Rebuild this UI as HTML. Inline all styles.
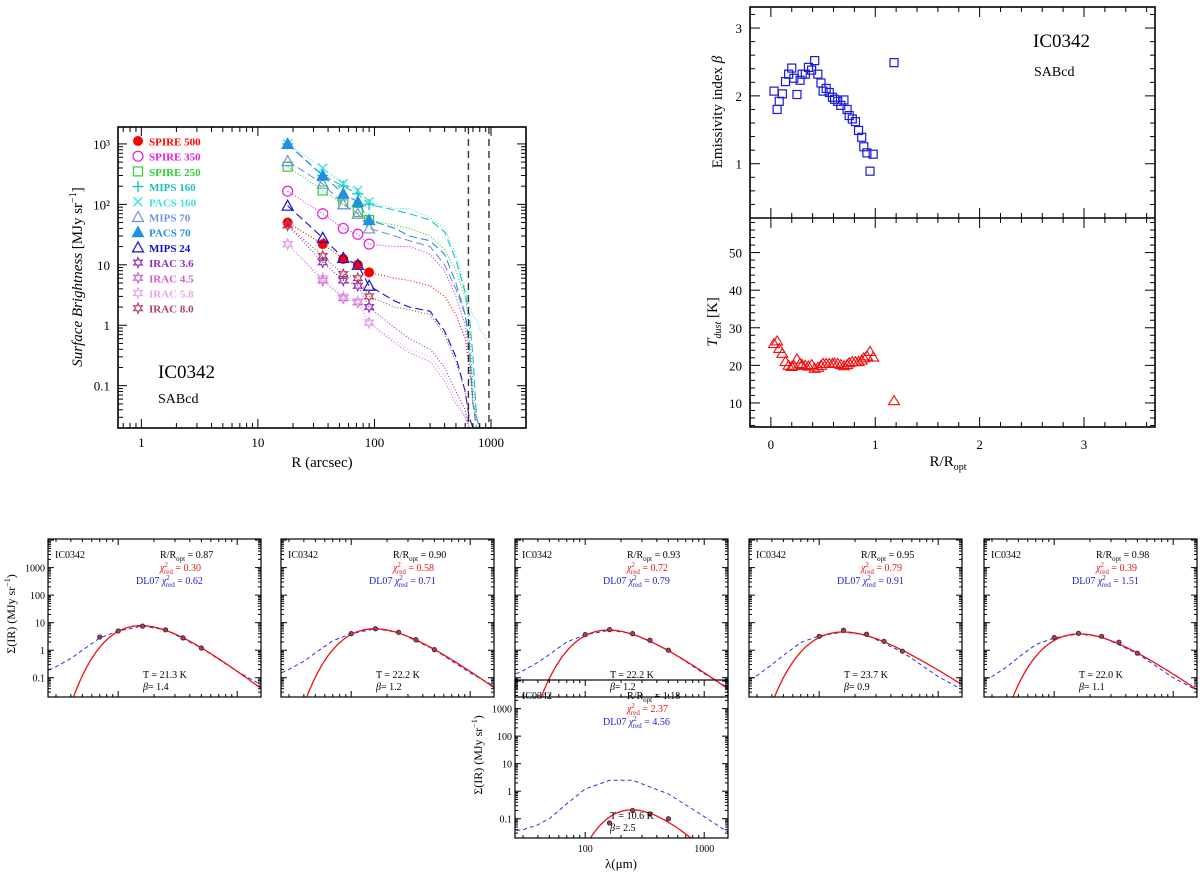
<!DOCTYPE html>
<html><head><meta charset="utf-8"><style>
body{margin:0;background:#fff;}
svg{display:block;}
text{font-family:"Liberation Serif","DejaVu Serif",serif;}
</style></head><body>
<svg id="fig" width="1200" height="874" viewBox="0 0 1200 874" xmlns="http://www.w3.org/2000/svg"></svg>
<script>
// ===== Main surface brightness profile data =====
const sbSeriesNames = ["SPIRE 500","SPIRE 350","SPIRE 250","MIPS 160","PACS 160","MIPS 70","PACS 70","MIPS 24","IRAC 3.6","IRAC 4.5","IRAC 5.8","IRAC 8.0"];
const sbColors = ["#ff0000","#e020e0","#30d030","#20c0c0","#40e0e0","#7090e0","#2090e0","#1010d0","#9030c0","#d060d0","#e8a8e8","#b04060"];
const sbMarkerR = [18,36,54,72,90];
const sbMarkerVals = [
 [50,22,12.5,10,7.5],
 [165,70,40,32,22],
 [420,170,100,75,55],
 [1000,300,200,150,100],
 [1000,400,220,170,110],
 [520,220,100,70,40],
 [1000,300,150,110,55],
 [95,28,13,10,4.5],
 [45,11,5.5,4.5,2],
 [22,5.5,2.8,2.4,1.1],
 [22,6,3,2.5,1.1],
 [45,14,7,6,3]
];
const sbProfileR = [18,36,54,72,90,150,200,300,400,500,600,650,700,750,800,950];
const sbProfileVals = [
 [50,22,12.5,10,7.5,6,5.5,4.5,3,1.5,0.6,0.2,0.05,0.03,0.02,0.01],
 [165,70,40,32,22,20,20,15,8,3,1,0.3,0.05,0.03,0.02,0.01],
 [420,170,100,75,55,45,40,30,18,8,3,1,0.1,0.03,0.02,0.01],
 [1000,300,200,150,100,80,70,55,35,12,3.5,1.5,0.3,0.03,0.02,0.01],
 [1000,400,220,170,110,85,85,60,40,15,4,2.2,1.5,1.2,0.9,0.5],
 [520,220,100,70,40,30,25,20,10,4,1.5,0.5,0.05,0.03,0.02,0.01],
 [1000,300,150,110,55,40,30,25,15,5,1.5,0.5,0.05,0.02,0.015,0.01],
 [95,28,13,10,4.5,2.5,2,1.7,0.8,0.3,0.08,0.03,0.02,0.015,0.01,0.01],
 [45,11,5.5,4.5,2,0.9,0.6,0.4,0.2,0.08,0.04,0.02,0.015,0.01,0.01,0.01],
 [22,5.5,2.8,2.4,1.1,0.5,0.35,0.25,0.12,0.05,0.03,0.02,0.015,0.01,0.01,0.01],
 [22,6,3,2.5,1.1,0.55,0.4,0.3,0.15,0.06,0.03,0.02,0.015,0.01,0.01,0.01],
 [45,14,7,6,3,2,1.8,1.5,0.7,0.25,0.08,0.03,0.02,0.015,0.01,0.01]
];
const sbDash = ["1,2","1,2","1,2","8,4","1,2","8,4","8,4","8,4","1,2","1,2","1,2","1,2"];
const sbMarkers = ["fcircle","ocircle","osquare","plus","cross","otri","ftri","otri","star","star","star","star"];
const sbXTicks = [1,10,100,1000];
const sbYTicks = [0.1,1,10,100,1000];
const sbYTickLabels = ["0.1","1","10","10²","10³"];
const vLines = [640,960];

// ===== Radial beta / T data =====
const radR = [0.03,0.06,0.08,0.11,0.14,0.17,0.20,0.22,0.25,0.28,0.30,0.33,0.36,0.39,0.42,0.45,0.48,0.50,0.53,0.56,0.59,0.61,0.64,0.67,0.70,0.73,0.75,0.78,0.81,0.84,0.87,0.89,0.92,0.95,0.98,1.18];
const betaVals = [2.07,1.80,1.92,2.03,2.21,2.32,2.41,2.26,2.02,2.23,2.32,2.32,2.42,2.38,2.52,2.32,2.19,2.07,2.11,2.05,1.98,1.95,1.92,1.86,1.94,1.80,1.71,1.66,1.62,1.49,1.39,1.25,1.16,0.89,1.14,2.49];
const tdustVals = [25.8,26.5,24.5,23.2,21,20,19.7,20,21.7,20.5,20.2,20,19.8,20.2,19.2,19.5,20,20.5,20.5,20.5,20.5,20.6,20.5,20.2,19.9,20.2,20.7,21,21,21,21.4,22,22.5,23.7,22.2,10.6];

// ===== SED panels =====
const sedRopt = ["0.87","0.90","0.93","0.95","0.98","1.18"];
const sedChi = ["0.30","0.58","0.72","0.79","0.39","2.37"];
const sedChiDL = ["0.62","0.71","0.79","0.91","1.51","4.56"];
const sedT = [21.3,22.2,22.2,23.7,22.0,10.6];
const sedBeta = [1.4,1.2,1.2,0.9,1.1,2.5];
const sedPeak = [7.8,6.0,5.4,4.6,3.9,0.21];
const sedPtsLam = [[70,100,160,250,350,500],[100,160,250,350,500],[100,160,250,350,500],[100,160,250,350,500],[100,160,250,350,500],[160,250,350,500]];
const sedPtsVal = [[3,5,7.5,5.5,2.8,1.2],[4,6,4.5,2.4,1.05],[3.7,5.6,4,2.3,1.0],[3.2,5.3,3.8,2.1,0.92],[2.9,4.1,3.2,1.95,0.78],[0.07,0.2,0.15,0.1]];
const dlLam = [23,30,40,50,70,100,160,250,500,1000,1740];
const dlVals = [
 [0.15,0.25,0.5,1,2.8,5,7.5,5.5,1.2,0.17,0.045],
 [0.12,0.2,0.4,0.8,2.2,4,6,4.4,1.05,0.15,0.04],
 [0.11,0.18,0.36,0.7,2,3.6,5.3,4,1.0,0.14,0.035],
 [0.07,0.12,0.3,0.65,1.9,3.3,4.6,3.6,0.85,0.11,0.03],
 [0.07,0.11,0.25,0.55,1.6,2.8,3.9,3.1,0.75,0.1,0.028],
 [0.035,0.04,0.06,0.1,0.35,1.2,2.5,2.5,0.8,0.12,0.025]
];
const sedPanelLeft = [48,281,515,749,984,515];
const sedPanelTop = [539,539,539,539,539,680];

const NS="http://www.w3.org/2000/svg";
const svg=document.getElementById('fig');
function el(tag,attrs,parent){const e=document.createElementNS(NS,tag);for(const k in attrs)e.setAttribute(k,attrs[k]);(parent||svg).appendChild(e);return e;}
function txt(s,x,y,attrs,parent){const t=el('text',Object.assign({x:x,y:y},attrs||{}),parent);t.textContent=s;return t;}
const L10=Math.log10;

// generic axis helpers
function logScale(lo,hi,p0,p1){return v=>p0+(L10(v)-lo)/(hi-lo)*(p1-p0);}
function linScale(lo,hi,p0,p1){return v=>p0+(v-lo)/(hi-lo)*(p1-p0);}
function logTicksX(g,sx,lo,hi,y0,y1,maj,min){for(let d=Math.floor(lo);d<=Math.ceil(hi);d++){for(let m=1;m<10;m++){const v=m*Math.pow(10,d);const lv=L10(v);if(lv<lo||lv>hi)continue;const x=sx(v);const len=m==1?maj:min;el('line',{x1:x,y1:y1,x2:x,y2:y1-len,stroke:'#000','stroke-width':1},g);el('line',{x1:x,y1:y0,x2:x,y2:y0+len,stroke:'#000','stroke-width':1},g);}}}
function logTicksY(g,sy,lo,hi,x0,x1,maj,min){for(let d=Math.floor(lo);d<=Math.ceil(hi);d++){for(let m=1;m<10;m++){const v=m*Math.pow(10,d);const lv=L10(v);if(lv<lo||lv>hi)continue;const y=sy(v);const len=m==1?maj:min;el('line',{x1:x0,y1:y,x2:x0+len,y2:y,stroke:'#000','stroke-width':1},g);el('line',{x1:x1,y1:y,x2:x1-len,y2:y,stroke:'#000','stroke-width':1},g);}}}

// marker drawing
function marker(g,type,x,y,c,s){
 s=s||4.5;
 if(type=='fcircle')el('circle',{cx:x,cy:y,r:s+0.5,fill:c},g);
 else if(type=='ocircle')el('circle',{cx:x,cy:y,r:s+0.5,fill:'none',stroke:c,'stroke-width':1.2},g);
 else if(type=='osquare')el('rect',{x:x-s,y:y-s,width:2*s,height:2*s,fill:'none',stroke:c,'stroke-width':1.2},g);
 else if(type=='plus'){el('path',{d:`M${x-s-1},${y}h${2*s+2}M${x},${y-s-1}v${2*s+2}`,stroke:c,'stroke-width':1.4},g);}
 else if(type=='cross'){el('path',{d:`M${x-s},${y-s}L${x+s},${y+s}M${x-s},${y+s}L${x+s},${y-s}`,stroke:c,'stroke-width':1.4},g);}
 else if(type=='otri'||type=='ftri'){el('polygon',{points:`${x},${y-s-1} ${x-s-1},${y+s} ${x+s+1},${y+s}`,fill:type=='ftri'?c:'none',stroke:c,'stroke-width':1.2},g);}
 else if(type=='star'){let p=[];for(let i=0;i<12;i++){const r=i%2?s*0.55:s+0.5;const a=Math.PI/6*i-Math.PI/2;p.push((x+r*Math.cos(a)).toFixed(1)+','+(y+r*Math.sin(a)).toFixed(1));}el('polygon',{points:p.join(' '),fill:'none',stroke:c,'stroke-width':1.2},g);}
}

// ===== Main plot =====
(function(){
 const X0=118,X1=526,Y0=127,Y1=428;
 const sx=logScale(-0.2,3.3,X0,X1), sy=logScale(3.28,-1.7,Y0,Y1);
 const g=el('g',{});
 
 
 const defs=el('defs',{},g);const cp=el('clipPath',{id:'cmain'},defs);el('rect',{x:X0,y:Y0,width:X1-X0,height:Y1-Y0},cp);
 const data=el('g',{'clip-path':'url(#cmain)'},g);
 sbProfileVals.forEach((vals,i)=>{
   const d=vals.map((v,j)=>(j?'L':'M')+sx(sbProfileR[j]).toFixed(1)+','+sy(v).toFixed(1)).join('');
   const p=el('path',{d:d,fill:'none',stroke:sbColors[i],'stroke-width':1.1,'stroke-dasharray':sbDash[i]},data);
   
   
 });
 vLines.forEach(v=>{const l=el('line',{x1:sx(v),x2:sx(v),y1:Y0,y2:Y1,stroke:'#333','stroke-width':1.4,'stroke-dasharray':'7,5'},data);
   
   });
 sbMarkerVals.forEach((vals,i)=>{vals.forEach((v,j)=>marker(data,sbMarkers[i],sx(sbMarkerR[j]),sy(v),sbColors[i]));});
 el('rect',{x:X0,y:Y0,width:X1-X0,height:Y1-Y0,fill:'none',stroke:'#000','stroke-width':1.6},g);
 logTicksX(g,sx,-0.2,3.3,Y0,Y1,9,5);
 logTicksY(g,sy,-1.7,3.28,X0,X1,9,5);
 sbXTicks.forEach(v=>{const t=txt(String(v),sx(v),447,{'font-size':13,'text-anchor':'middle'},g);
   
   });
 sbYTicks.forEach((v,i)=>{const t=txt(sbYTickLabels[i],110,sy(v)+5,{'font-size':13,'text-anchor':'end'},g);
   
   });
 const xl=txt('R (arcsec)',322,467,{'font-size':15,'text-anchor':'middle'},g);
 
 
 const yl=el('text',{x:0,y:0,'font-size':15,'text-anchor':'middle',transform:'translate(82,277) rotate(-90)'},g);
 yl.innerHTML='<tspan font-style="italic">Surface Brightness</tspan> [MJy sr<tspan font-size="10" dy="-6">−1</tspan><tspan dy="6">]</tspan>';
 
 
 sbSeriesNames.forEach((n,i)=>{const y=141+i*15.2;
   const lg=el('g',{},g);
   
   
   marker(lg,sbMarkers[i],138,y,sbColors[i]);
   txt(n,149,y+4.5,{'font-size':11,'font-weight':'bold','fill':sbColors[i],'font-family':'"Liberation Sans",sans-serif'},lg);});
 const gn=txt('IC0342',158,378,{'font-size':19},g);
 
 
 const gt=txt('SABcd',158,403,{'font-size':14},g);
 
 
})();

// ===== Right plot =====
(function(){
 const X0=750,X1=1155,YT=7,YM=218,YB=427;
 const sx=linScale(-0.2,3.68,X0,X1);
 const syb=linScale(3.31,0.2,YT,YM), syt=linScale(59.2,3.6,YM,YB);
 const g=el('g',{});
 
 
 el('rect',{x:X0,y:YT,width:X1-X0,height:YB-YT,fill:'none',stroke:'#000','stroke-width':1.6},g);
 el('line',{x1:X0,x2:X1,y1:YM,y2:YM,stroke:'#000','stroke-width':1.6},g);
 for(let v=-0.2;v<=3.6001;v+=0.2){const x=sx(v);const maj=Math.abs(v-Math.round(v))<1e-6;const len=maj?10:5;
   [[YT,1],[YM,-1],[YM,1],[YB,-1]].forEach(([y,dir])=>el('line',{x1:x,x2:x,y1:y,y2:y+dir*len,stroke:'#000'},g));}
 for(let v=0.4;v<=3.3;v+=0.2){const y=syb(v);const maj=Math.abs(v-Math.round(v))<1e-6;const len=maj?10:5;
   el('line',{x1:X0,x2:X0+len,y1:y,y2:y,stroke:'#000'},g);el('line',{x1:X1,x2:X1-len,y1:y,y2:y,stroke:'#000'},g);}
 for(let v=4;v<=58;v+=2){const y=syt(v);const maj=v%10==0;const len=maj?10:5;
   el('line',{x1:X0,x2:X0+len,y1:y,y2:y,stroke:'#000'},g);el('line',{x1:X1,x2:X1-len,y1:y,y2:y,stroke:'#000'},g);}
 [1,2,3].forEach(v=>txt(String(v),742,syb(v)+5,{'font-size':13,'text-anchor':'end'},g));
 [10,20,30,40,50].forEach(v=>txt(String(v),742,syt(v)+5,{'font-size':13,'text-anchor':'end'},g));
 [0,1,2,3].forEach(v=>txt(String(v),sx(v),449,{'font-size':13,'text-anchor':'middle'},g));
 const xl=el('text',{x:948,y:466,'font-size':15,'text-anchor':'middle'},g);
 xl.innerHTML='R/R<tspan font-size="10" dy="4">opt</tspan>';
 
 
 const y1=el('text',{x:0,y:0,'font-size':15,'text-anchor':'middle',transform:'translate(722,112) rotate(-90)'},g);
 y1.innerHTML='Emissivity index <tspan font-style="italic">β</tspan>';
 
 
 const y2=el('text',{x:0,y:0,'font-size':15,'text-anchor':'middle',transform:'translate(717,322) rotate(-90)'},g);
 y2.innerHTML='<tspan font-style="italic">T</tspan><tspan font-size="10" dy="4" font-style="italic">dust</tspan><tspan dy="-4">  [K]</tspan>';
 
 
 txt('IC0342',1033,47,{'font-size':19},g);
 txt('SABcd',1034,76,{'font-size':14},g);
 radR.forEach((r,i)=>{const m=el('rect',{x:sx(r)-4,y:syb(betaVals[i])-4,width:8,height:8,fill:'none',stroke:'#1a1ad0','stroke-width':1.2},g);
   
   });
 radR.forEach((r,i)=>{const x=sx(r),y=syt(tdustVals[i]);const m=el('polygon',{points:`${x},${y-5} ${x-5.5},${y+4} ${x+5.5},${y+4}`,fill:'none',stroke:'#ee1010','stroke-width':1.1},g);
   
   });
})();

// ===== SED panels =====
function greybody(l,T,b){return Math.pow(l,-(3+b))/(Math.exp(14388/(l*T))-1);}
sedT.forEach((T,i)=>{
 const X0=sedPanelLeft[i],X1=X0+213,Y0=sedPanelTop[i],Y1=Y0+158;
 const sx=logScale(1.41,3.2,X0,X1), sy=logScale(4.04,-1.7,Y0,Y1);
 const g=el('g',{});
 
 
 const defs=el('defs',{},g);const cp=el('clipPath',{id:'csed'+i},defs);el('rect',{x:X0,y:Y0,width:213,height:158},cp);
 const data=el('g',{'clip-path':'url(#csed'+i+')'},g);
 // blue DL07
 const bd=dlVals[i].map((v,j)=>(j?'L':'M')+sx(dlLam[j]).toFixed(1)+','+sy(v).toFixed(1)).join('');
 const bp=el('path',{d:bd,fill:'none',stroke:'#3030e0','stroke-width':1,'stroke-dasharray':'4,3'},data);
 
 
 // red greybody
 let mx=0;const lams=[];for(let k=0;k<=120;k++){const l=Math.pow(10,1.41+k*(1.79/120));lams.push(l);mx=Math.max(mx,greybody(l,T,sedBeta[i]));}
 const A=sedPeak[i]/mx;
 const rd=lams.map((l,k)=>{let v=A*greybody(l,T,sedBeta[i]);v=Math.max(v,1e-3);return (k?'L':'M')+sx(l).toFixed(1)+','+sy(v).toFixed(1);}).join('');
 const rp=el('path',{d:rd,fill:'none',stroke:'#ee1010','stroke-width':1.3},data);
 
 
 sedPtsLam[i].forEach((l,j)=>{const c=el('circle',{cx:sx(l),cy:sy(sedPtsVal[i][j]),r:2.2,fill:'#a04050',stroke:'#402030','stroke-width':0.8},data);
   
   });
 el('rect',{x:X0,y:Y0,width:213,height:158,fill:'none',stroke:'#000','stroke-width':1.2},g);
 logTicksX(g,sx,1.41,3.2,Y0,Y1,6,3);
 logTicksY(g,sy,-1.7,4.04,X0,X1,6,3);
 const fs={'font-size':10};
 txt('IC0342',X0+7,Y0+19,fs,g);
 const r=el('text',{x:X0+112,y:Y0+19,'font-size':10},g);r.innerHTML='R/R<tspan font-size="7" dy="3">opt</tspan><tspan dy="-3"> = '+sedRopt[i]+'</tspan>';
 const c1=el('text',{x:X0+112,y:Y0+32,'font-size':10,fill:'#ee1010'},g);c1.innerHTML='<tspan font-style="italic">χ</tspan><tspan font-size="7" dy="-4">2</tspan><tspan font-size="7" dx="-4" dy="7">red</tspan><tspan dy="-3"> = '+sedChi[i]+'</tspan>';
 const c2=el('text',{x:X0+88,y:Y0+45,'font-size':10,fill:'#2020d0'},g);c2.innerHTML='DL07 <tspan font-style="italic">χ</tspan><tspan font-size="7" dy="-4">2</tspan><tspan font-size="7" dx="-4" dy="7">red</tspan><tspan dy="-3"> = '+sedChiDL[i]+'</tspan>';
 txt('T = '+T.toFixed(1)+' K',X0+95,Y0+139,fs,g);
 const b=el('text',{x:X0+95,y:Y0+151,'font-size':10},g);b.innerHTML='<tspan font-style="italic">β</tspan>= '+sedBeta[i].toFixed(1);
 if(i==0||i==5){
   [0.1,1,10,100,1000].forEach(v=>txt(String(v),X0-3,sy(v)+4,{'font-size':10,'text-anchor':'end'},g));
   const yl=el('text',{x:0,y:0,'font-size':12,'text-anchor':'middle',transform:`translate(${X0-33},${Y0+75}) rotate(-90)`},g);
   yl.innerHTML='Σ(IR) (MJy sr<tspan font-size="8" dy="-5">−1</tspan><tspan dy="5">)</tspan>';
   
   
 }
 if(i==5){
   [100,1000].forEach(v=>txt(String(v),sx(v),Y1+14,{'font-size':10,'text-anchor':'middle'},g));
   const xl=txt('λ(μm)',621,868,{'font-size':13,'text-anchor':'middle'},g);
   
   
 }
});
</script>
</body></html>
